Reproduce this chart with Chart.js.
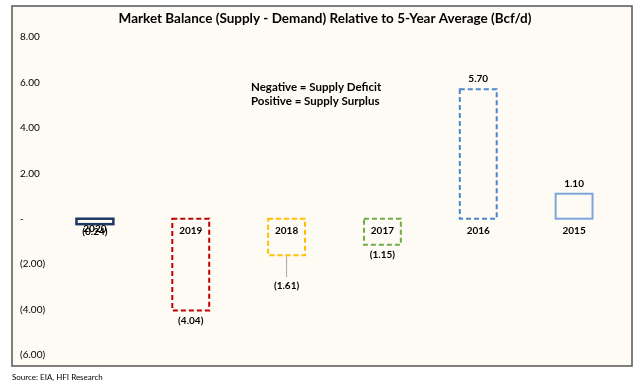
<!DOCTYPE html>
<html><head><meta charset="utf-8">
<script src="https://cdn.jsdelivr.net/npm/chart.js@4/dist/chart.umd.min.js"></script>
<style>html,body{margin:0;padding:0;background:#fff;}#wrap{width:640px;height:385px;position:relative;}</style>
</head><body><div id="wrap"><canvas id="c" width="640" height="385"></canvas></div>
<script>
const categories = ['2020','2019','2018','2017','2016','2015'];
const values = [-0.24, -4.04, -1.61, -1.15, 5.70, 1.10];
const valueLabels = ['(0.24)','(4.04)','(1.61)','(1.15)','5.70','1.10'];
const barColors = ['#1F3864','#C00000','#FFC000','#70AD47','#4A86D0','#7EA6DC'];
const barDashed = [false, true, true, true, true, false];
const yTicks = [8, 6, 4, 2, 0, -2, -4, -6];
const titleText = 'Market Balance (Supply - Demand) Relative to 5-Year Average (Bcf/d)';
const noteLines = ['Negative = Supply Deficit', 'Positive = Supply Surplus'];
const sourceText = 'Source: EIA, HFI Research';

const FONT = 'Lato, "Open Sans", sans-serif';

const decor = {
  id: 'decor',
  beforeDraw(chart) {
    const ctx = chart.ctx;
    ctx.save();
    ctx.fillStyle = '#fff';
    ctx.fillRect(0, 0, 640, 385);
    ctx.fillStyle = '#FDFBF3';
    ctx.fillRect(12, 6, 620, 360);
    ctx.strokeStyle = '#555';
    ctx.lineWidth = 1.5;
    ctx.strokeRect(12, 6, 620, 360);
    ctx.fillStyle = '#000';
    ctx.font = 'bold 13.5px ' + FONT;
    ctx.textAlign = 'center';
    ctx.textBaseline = 'middle';
    ctx.fillText(titleText, 325, 19);
    ctx.font = '8px ' + FONT;
    ctx.textAlign = 'left';
    ctx.fillText(sourceText, 12, 377);
    ctx.restore();
  },
  afterDatasetsDraw(chart) {
    const ctx = chart.ctx;
    const meta = chart.getDatasetMeta(0);
    const ys = chart.scales.y;
    ctx.save();
    meta.data.forEach((el, i) => {
      const p = el.getProps(['x','y','base','width'], true);
      const left = p.x - p.width / 2;
      const top = Math.min(p.y, p.base);
      const h = Math.abs(p.y - p.base);
      ctx.strokeStyle = barColors[i];
      ctx.lineWidth = i === 0 ? 2.5 : 2;
      ctx.setLineDash(barDashed[i] ? [5, 3] : []);
      ctx.strokeRect(left, top, p.width, h);
    });
    ctx.setLineDash([]);
    ctx.fillStyle = '#000';
    ctx.font = 'bold 10px ' + FONT;
    ctx.textAlign = 'center';
    ctx.textBaseline = 'middle';
    const zero = ys.getPixelForValue(0);
    meta.data.forEach((el, i) => {
      const p = el.getProps(['x','y','base','width'], true);
      ctx.fillText(categories[i], p.x, zero + (i === 0 ? 10 : 12));
      let ly;
      if (values[i] >= 0) ly = p.y - 10;
      else if (i === 2) {
        ly = p.y + 30;
        ctx.strokeStyle = '#A6A6A6';
        ctx.lineWidth = 1;
        ctx.beginPath();
        ctx.moveTo(p.x, p.y + 1);
        ctx.lineTo(p.x, ly - 8);
        ctx.stroke();
      }
      else ly = p.y + 10;
      if (i === 0) ly = zero + 13;
      ctx.fillText(valueLabels[i], p.x, ly);
    });
    ctx.textAlign = 'left';
    ctx.font = 'bold 11.5px ' + FONT;
    ctx.fillText(noteLines[0], 251, 87);
    ctx.fillText(noteLines[1], 251, 101);
    ctx.restore();
  }
};

new Chart(document.getElementById('c'), {
  type: 'bar',
  data: {
    labels: categories,
    datasets: [{
      data: values,
      backgroundColor: 'rgba(0,0,0,0)',
      borderWidth: 0,
      categoryPercentage: 1,
      barPercentage: 0.385
    }]
  },
  options: {
    responsive: false,
    animation: false,
    events: [],
    layout: { padding: { left: 20, right: 18, top: 37, bottom: 30 } },
    plugins: { legend: { display: false }, title: { display: false }, tooltip: { enabled: false } },
    scales: {
      x: { display: false },
      y: {
        min: -6, max: 8,
        afterFit(scale) { scale.width = 27; },
        afterBuildTicks(scale) { scale.ticks = yTicks.map(v => ({ value: v })); },
        grid: { display: false, drawTicks: false },
        border: { display: false },
        ticks: {
          crossAlign: 'far',
          padding: 0,
          color: '#000',
          font: { family: FONT, size: 10 },
          callback: v => v === 0 ? '-' : (v < 0 ? '(' + Math.abs(v).toFixed(2) + ')' : v.toFixed(2))
        }
      }
    }
  },
  plugins: [decor]
});
</script></body></html>
